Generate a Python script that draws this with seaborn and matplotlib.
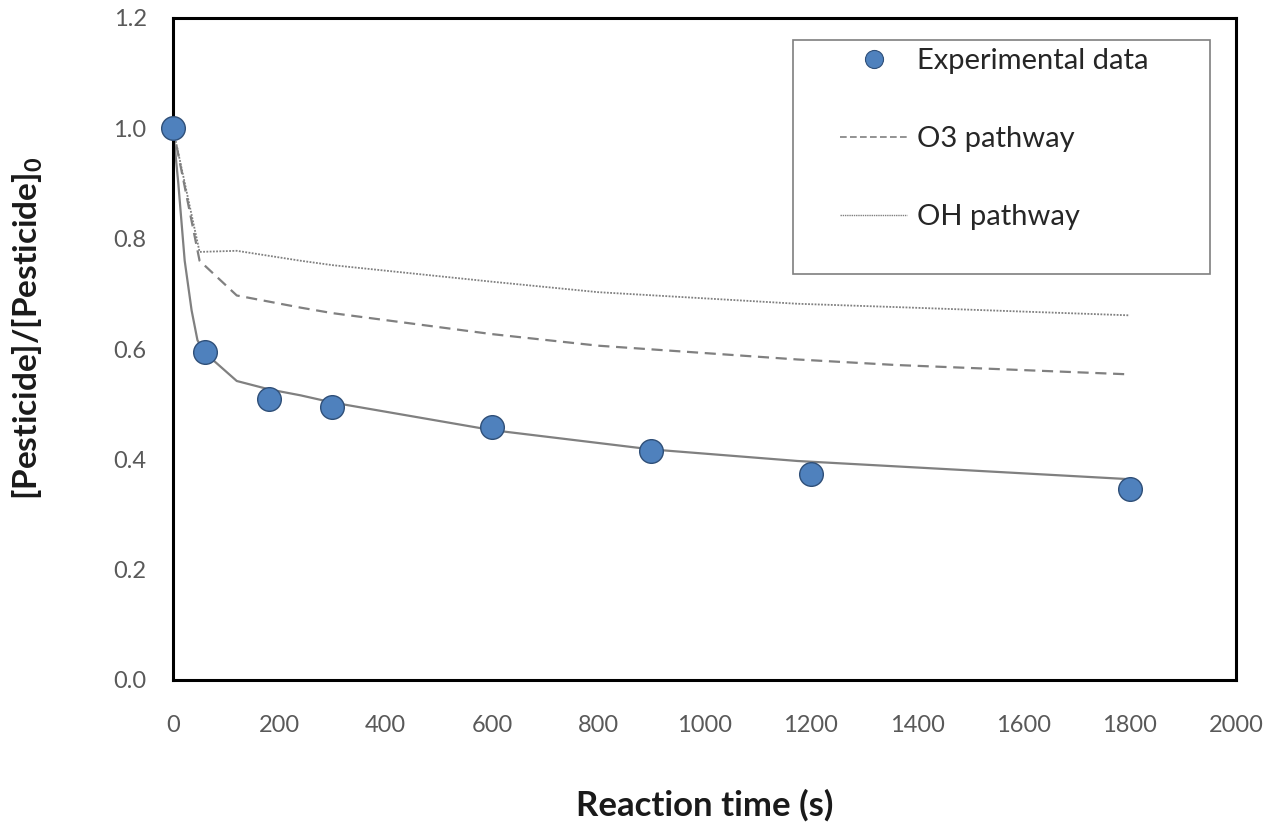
import matplotlib
matplotlib.use("Agg")
import matplotlib.pyplot as plt
import seaborn as sns
from matplotlib.patches import Rectangle
from matplotlib.lines import Line2D

# ---- data ----
exp_time = [0, 60, 180, 300, 600, 900, 1200, 1800]
exp_conc = [1.0, 0.595, 0.51, 0.494, 0.459, 0.416, 0.373, 0.347]

model_time = [0, 10, 22, 35, 46, 60, 120, 180, 240, 300, 600, 900, 1175, 1460, 1800]
model_conc = [1.0, 0.90, 0.76, 0.67, 0.616, 0.593, 0.542, 0.527, 0.516, 0.503, 0.453, 0.418, 0.397, 0.382, 0.364]

o3_time = [0, 50, 120, 240, 300, 600, 800, 1175, 1360, 1800]
o3_conc = [1.0, 0.76, 0.697, 0.675, 0.665, 0.627, 0.606, 0.581, 0.571, 0.554]

oh_time = [0, 50, 120, 240, 300, 600, 800, 1175, 1360, 1800]
oh_conc = [1.0, 0.776, 0.778, 0.760, 0.752, 0.722, 0.703, 0.682, 0.676, 0.661]

x_ticks = [0, 200, 400, 600, 800, 1000, 1200, 1400, 1600, 1800, 2000]
y_ticks = [0.0, 0.2, 0.4, 0.6, 0.8, 1.0, 1.2]

labels = ["Experimental data", "O3 pathway", "OH pathway"]

# ---- style ----
sns.set_style("white")
plt.rcParams['font.family'] = ['Lato', 'DejaVu Sans']
plt.rcParams['mathtext.fontset'] = 'custom'
plt.rcParams['mathtext.bf'] = 'Lato:bold'
plt.rcParams['mathtext.rm'] = 'Lato'

W, H = 1269, 826
fig = plt.figure(figsize=(W / 100, H / 100), dpi=100)
ax = fig.add_axes([173 / W, 1 - 680 / H, (1236 - 173) / W, (680 - 18) / H])

line_col = "#808080"
sns.lineplot(x=model_time, y=model_conc, ax=ax, color=line_col, linewidth=1.6, sort=False)
sns.lineplot(x=o3_time, y=o3_conc, ax=ax, color=line_col, linewidth=1.6, linestyle=(0, (5, 3)), sort=False)
sns.lineplot(x=oh_time, y=oh_conc, ax=ax, color=line_col, linewidth=1.3, linestyle=(0, (1, 0.8)), sort=False)
sns.scatterplot(x=exp_time, y=exp_conc, ax=ax, s=290, color="#4F81BD",
                edgecolor="#2F4F78", linewidth=1.0, zorder=5, clip_on=False)

ax.set_xlim(0, 2000)
ax.set_ylim(0, 1.2)
ax.set_xticks(x_ticks)
ax.set_yticks(y_ticks)
ax.set_xticklabels([str(v) for v in x_ticks])
ax.set_yticklabels([f"{v:.1f}" for v in y_ticks])

for sp in ax.spines.values():
    sp.set_visible(True)
    sp.set_color("black")
    sp.set_linewidth(2.2)

ax.tick_params(axis='both', which='major', direction='inout', length=10, width=1,
               color="#333333", labelsize=17, labelcolor="#595959")
ax.tick_params(axis='x', pad=20)
ax.tick_params(axis='y', pad=14)
ax.tick_params(top=False, right=False)

ax.set_xlabel("Reaction time (s)", fontsize=25, fontweight='bold', color="#1a1a1a", labelpad=38)
ax.set_ylabel(r"[Pesticide]/[Pesticide]$_\mathbf{0}$", fontsize=24, fontweight='bold',
              color="#1a1a1a", labelpad=20)
ax.yaxis.set_label_coords(-0.12, 0.532)

# legend box
ax.add_patch(Rectangle(((793 - 173) / 1063, (680 - 274) / 662),
                       (1210 - 793) / 1063, (274 - 40) / 662,
                       transform=ax.transAxes, fill=False, edgecolor="#7f7f7f",
                       linewidth=1.2, zorder=6))

handles = [
    Line2D([], [], marker='o', linestyle='none', markersize=13, markerfacecolor="#4F81BD",
           markeredgecolor="#2F4F78", markeredgewidth=0.8),
    Line2D([], [], color=line_col, linewidth=1.2, linestyle=(0, (4, 2))),
    Line2D([], [], color=line_col, linewidth=1.0, linestyle=(0, (1, 0.6))),
]
leg = ax.legend(handles, labels, loc='upper left',
                bbox_to_anchor=((840 - 173) / 1063, (680 - 48) / 662),
                frameon=False, fontsize=21, borderpad=0, borderaxespad=0,
                handlelength=2.3, handletextpad=0.35, labelspacing=1.78)
for t in leg.get_texts():
    t.set_color("#262626")

fig.savefig("out.png", dpi=100)
